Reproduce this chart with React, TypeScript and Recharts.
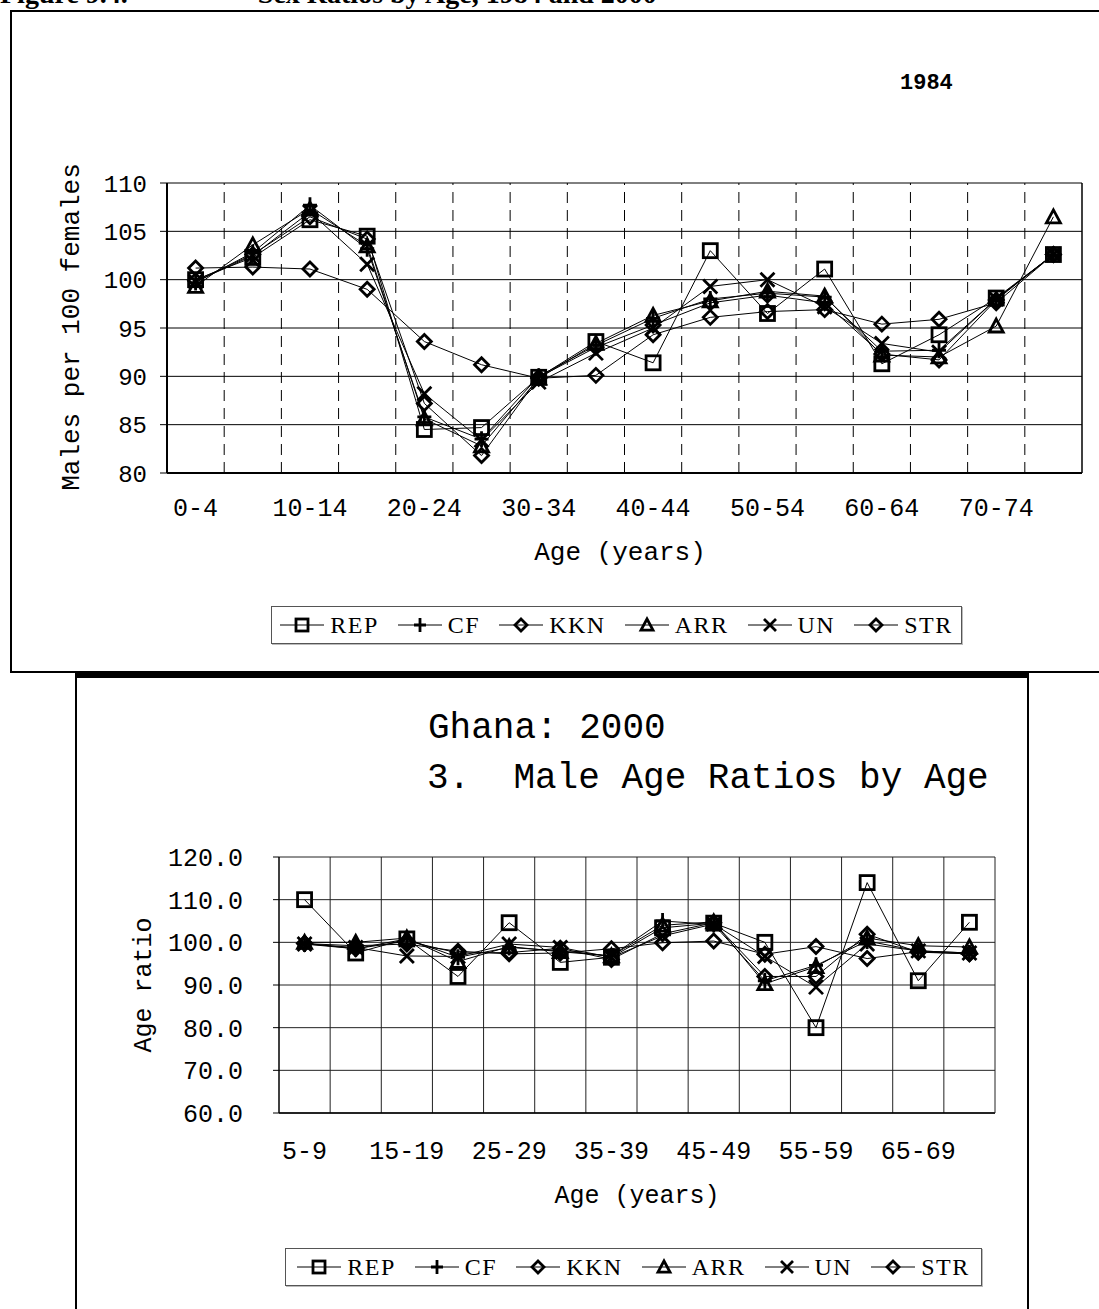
import React from 'react';
import { LineChart, Line, XAxis, YAxis, CartesianGrid, ReferenceLine } from 'recharts';

const MONO = '"Liberation Mono", "DejaVu Sans Mono", monospace';
const SERIF = '"Liberation Serif", "DejaVu Serif", serif';

const SERIES = ['REP', 'CF', 'KKN', 'ARR', 'UN', 'STR'];
const SHAPES = ['square', 'plus', 'diamond', 'triangle', 'x', 'diamond'];

// ---- 1984 ----
const ages1984 = ['0-4', '5-9', '10-14', '15-19', '20-24', '25-29', '30-34', '35-39', '40-44', '45-49', '50-54', '55-59', '60-64', '65-69', '70-74', '75+'];
const rep1984 = [100.0, 102.3, 106.2, 104.5, 84.5, 84.7, 89.9, 93.6, 91.4, 103.0, 96.5, 101.1, 91.3, 94.3, 98.1, 102.6];
const cf1984 = [99.7, 102.8, 107.7, 103.2, 85.8, 83.5, 90.0, 93.2, 96.0, 98.0, 98.6, 98.2, 92.6, 92.7, 98.0, 102.6];
const kkn1984 = [99.9, 102.6, 106.5, 104.2, 87.2, 81.8, 89.9, 93.0, 95.3, 97.6, 98.4, 97.6, 92.3, 91.7, 97.9, 102.6];
const arr1984 = [99.3, 103.6, 107.3, 103.5, 85.6, 82.8, 89.8, 93.4, 96.3, 97.8, 98.8, 98.3, 92.2, 92.0, 95.2, 106.5];
const un1984 = [99.8, 102.5, 107.0, 101.6, 88.2, 83.4, 89.4, 92.4, 95.0, 99.3, 100.0, 97.2, 93.4, 92.5, 98.0, 102.6];
const str1984 = [101.2, 101.3, 101.1, 99.0, 93.6, 91.2, 89.8, 90.1, 94.3, 96.1, 96.7, 96.9, 95.4, 95.9, 97.6, 102.6];
const yTicks1984 = [80, 85, 90, 95, 100, 105, 110];

// ---- 2000 ----
const ages2000 = ['5-9', '10-14', '15-19', '20-24', '25-29', '30-34', '35-39', '40-44', '45-49', '50-54', '55-59', '60-64', '65-69', '70-74'];
const rep2000 = [110.0, 97.5, 100.8, 92.0, 104.6, 95.3, 96.5, 103.4, 104.5, 100.0, 80.0, 114.0, 91.0, 104.7];
const cf2000 = [99.6, 98.5, 100.8, 96.5, 98.8, 98.0, 96.8, 105.0, 104.2, 91.0, 94.6, 100.3, 98.0, 97.5];
const kkn2000 = [99.8, 98.5, 100.3, 97.5, 97.6, 98.6, 96.0, 102.0, 104.6, 92.0, 92.0, 101.9, 97.7, 97.3];
const arr2000 = [100.0, 100.0, 101.0, 95.5, 99.0, 97.8, 96.8, 104.0, 104.8, 90.3, 94.3, 101.0, 99.2, 98.9];
const un2000 = [99.6, 98.8, 96.8, 96.7, 99.6, 98.8, 96.5, 101.5, 104.3, 96.7, 89.5, 99.6, 98.0, 97.5];
const str2000 = [99.7, 99.2, 99.6, 97.9, 97.3, 97.5, 98.5, 99.9, 100.3, 97.2, 99.0, 96.2, 97.8, 97.3];
const yTicks2000 = [60, 70, 80, 90, 100, 110, 120];

function buildRows(ages: string[], cols: number[][]) {
  return ages.map((a, i) => {
    const row: any = { x: i + 0.5, age: a };
    SERIES.forEach((s, k) => { row[s] = cols[k][i]; });
    return row;
  });
}

const data1984 = buildRows(ages1984, [rep1984, cf1984, kkn1984, arr1984, un1984, str1984]);
const data2000 = buildRows(ages2000, [rep2000, cf2000, kkn2000, arr2000, un2000, str2000]);

const labelTicks = (n: number) => Array.from({ length: Math.ceil(n / 2) }, (_, k) => 2 * k + 0.5);
const bounds = (n: number) => Array.from({ length: n - 1 }, (_, k) => k + 1);

function Marker({ shape, cx, cy, size = 14, sw = 2.8 }: any) {
  if (cx == null || cy == null) return null;
  const h = size / 2;
  const common = { fill: 'none', stroke: '#000', strokeWidth: sw };
  switch (shape) {
    case 'square':
      return <rect x={cx - h} y={cy - h} width={size} height={size} {...common} />;
    case 'plus':
      return <path d={`M${cx - h},${cy}H${cx + h}M${cx},${cy - h - 1}V${cy + h + 1}`} {...common} />;
    case 'diamond':
      return <path d={`M${cx},${cy - h}L${cx + h},${cy}L${cx},${cy + h}L${cx - h},${cy}Z`} {...common} />;
    case 'triangle':
      return <path d={`M${cx},${cy - h}L${cx + h},${cy + h * 0.85}L${cx - h},${cy + h * 0.85}Z`} {...common} />;
    case 'x':
      return <path d={`M${cx - h},${cy - h}L${cx + h},${cy + h}M${cx - h},${cy + h}L${cx + h},${cy - h}`} {...common} />;
    default:
      return null;
  }
}

function seriesLines() {
  return SERIES.map((s, i) => (
    <Line
      key={s}
      dataKey={s}
      type="linear"
      stroke="#000"
      strokeWidth={1}
      isAnimationActive={false}
      activeDot={false}
      dot={(p: any) => <Marker key={`${s}-${p.index}`} shape={SHAPES[i]} cx={p.cx} cy={p.cy} />}
    />
  ));
}

function LegendBox({ left, top, width, height }: any) {
  return (
    <div style={{
      position: 'absolute', left, top, width, height, boxSizing: 'border-box',
      border: '1px solid #555', boxShadow: '1px 1px 0 #bbb', display: 'flex', alignItems: 'center', justifyContent: 'center',
      gap: 19, background: '#fff',
    }}>
      {SERIES.map((s, i) => (
        <div key={s} style={{ display: 'flex', alignItems: 'center' }}>
          <svg width={44} height={24} style={{ display: 'block' }}>
            <line x1={0} y1={12} x2={44} y2={12} stroke="#000" strokeWidth={1} />
            <Marker shape={SHAPES[i]} cx={22} cy={12} size={12} sw={2.8} />
          </svg>
          <span style={{ fontFamily: SERIF, fontSize: 24, letterSpacing: 1.5, marginLeft: 6, lineHeight: '24px', color: '#000' }}>{s}</span>
        </div>
      ))}
    </div>
  );
}

export default function App() {
  const tickStyle = { fontFamily: MONO, fontSize: 25, fill: '#000' };
  return (
    <div style={{ position: 'absolute', left: 0, top: 0, width: 1099, height: 1309, overflow: 'hidden', background: '#fff' }}>
      {/* page title, cut at top as in the source */}
      <div style={{ position: 'absolute', left: 0, top: -22, fontFamily: SERIF, fontWeight: 'bold', fontSize: 28, whiteSpace: 'pre', lineHeight: '32px' }}>
        {'Figure 9.4.'}<span style={{ display: 'inline-block', width: 130 }} />{'Sex Ratios by Age, 1984 and 2000'}
      </div>

      {/* frames */}
      <div style={{ position: 'absolute', left: 10, top: 10, width: 1100, height: 663, boxSizing: 'border-box', borderTop: '2px solid #000', borderLeft: '2px solid #000', borderBottom: '2px solid #000' }} />

      {/* top chart */}
      <div style={{ position: 'absolute', left: 0, top: 0 }}>
        <LineChart width={1099} height={600} data={data1984} margin={{ top: 183, right: 16, left: 107, bottom: 87 }}>
          <CartesianGrid vertical={false} stroke="#000" strokeWidth={1} />
          {bounds(ages1984.length).map((b) => (
            <ReferenceLine key={b} x={b} stroke="#000" strokeWidth={1} strokeDasharray="11 7" />
          ))}
          <XAxis
            dataKey="x" type="number" domain={[0, ages1984.length]} ticks={labelTicks(ages1984.length)} interval={0}
            tickFormatter={(v: number) => ages1984[Math.floor(v)]}
            axisLine={{ stroke: '#000', strokeWidth: 2 }} tickLine={false} tickSize={0} tickMargin={25} height={40}
            tick={tickStyle}
          />
          <YAxis
            type="number" domain={[80, 110]} ticks={yTicks1984} interval={0} width={60}
            axisLine={{ stroke: '#000', strokeWidth: 2 }} tickLine={{ stroke: '#000' }} tickSize={7} tickMargin={13}
            tick={{ ...tickStyle, fontSize: 24 }}
          />
          <YAxis yAxisId="r" orientation="right" type="number" domain={[80, 110]} width={1} tick={false} tickLine={false} axisLine={{ stroke: '#000', strokeWidth: 1.5 }} />
          {seriesLines()}
        </LineChart>
      </div>
      <LegendBox left={271} top={606} width={691} height={38} />

      {/* bottom chart frame */}
      <div style={{ position: 'absolute', left: 75, top: 673, width: 954, height: 700, boxSizing: 'border-box', borderTop: '5px solid #000', borderLeft: '2px solid #000', borderRight: '2px solid #000' }} />

      <div style={{ position: 'absolute', left: 0, top: 700 }}>
        <LineChart width={1099} height={480} data={data2000} margin={{ top: 157, right: 103, left: 219, bottom: 27 }}>
          <CartesianGrid vertical={false} stroke="#222" strokeWidth={1} />
          {bounds(ages2000.length).map((b) => (
            <ReferenceLine key={b} x={b} stroke="#222" strokeWidth={1} />
          ))}
          <XAxis
            dataKey="x" type="number" domain={[0, ages2000.length]} ticks={labelTicks(ages2000.length)} interval={0}
            tickFormatter={(v: number) => ages2000[Math.floor(v)]}
            axisLine={{ stroke: '#000', strokeWidth: 1.5 }} tickLine={false} tickSize={0} tickMargin={28} height={40}
            tick={tickStyle}
          />
          <YAxis
            type="number" domain={[60, 120]} ticks={yTicks2000} interval={0} width={60}
            tickFormatter={(v: number) => v.toFixed(1)}
            axisLine={{ stroke: '#000', strokeWidth: 1.5 }} tickLine={{ stroke: '#000' }} tickSize={6} tickMargin={30}
            tick={tickStyle}
          />
          <YAxis yAxisId="r" orientation="right" type="number" domain={[60, 120]} width={1} tick={false} tickLine={false} axisLine={{ stroke: '#222', strokeWidth: 1 }} />
          {seriesLines()}
        </LineChart>
      </div>
      <LegendBox left={285} top={1248} width={697} height={38} />

      {/* text overlay */}
      <svg width={1099} height={1309} style={{ position: 'absolute', left: 0, top: 0, pointerEvents: 'none' }}>
        <text x={900} y={89} fontFamily={MONO} fontWeight="bold" fontSize={22} fill="#000">1984</text>
        <text x={79} y={327} transform="rotate(-90, 79, 327)" textAnchor="middle" fontFamily={MONO} fontSize={26} fill="#000">Males per 100 females</text>
        <text x={620} y={560} textAnchor="middle" fontFamily={MONO} fontSize={26} fill="#000">Age (years)</text>

        <text x={428} y={738} fontFamily={MONO} fontSize={36} fill="#000">Ghana: 2000</text>
        <text x={427} y={788} fontFamily={MONO} fontSize={36} fill="#000" style={{ whiteSpace: 'pre' }}>{'3.  Male Age Ratios by Age'}</text>
        <text x={151} y={985} transform="rotate(-90, 151, 985)" textAnchor="middle" fontFamily={MONO} fontSize={25} fill="#000">Age ratio</text>
        <text x={637} y={1203} textAnchor="middle" fontFamily={MONO} fontSize={25} fill="#000">Age (years)</text>
      </svg>
    </div>
  );
}
